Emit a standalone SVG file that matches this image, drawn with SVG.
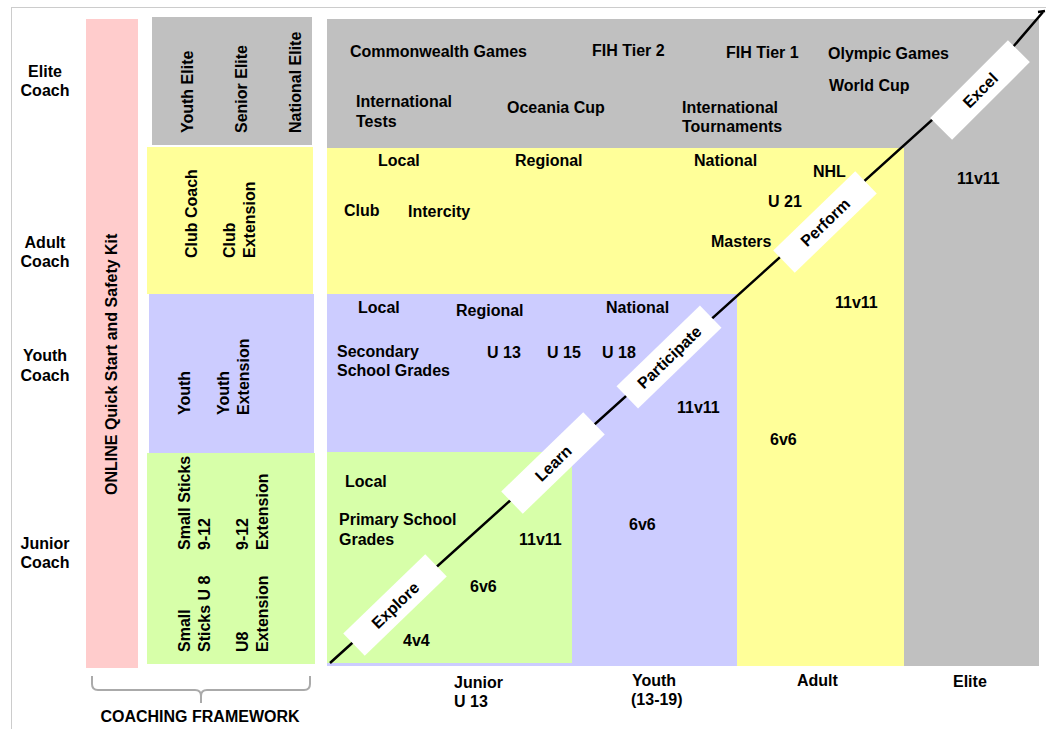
<svg xmlns="http://www.w3.org/2000/svg" width="1046" height="729" viewBox="0 0 1046 729">
<style>
text{font-family:"Liberation Sans",Arial,Helvetica,sans-serif;font-weight:bold;font-size:16px;fill:#000}
.c{text-anchor:middle}
.gray{fill:#c0c0c0}
.yel{fill:#ffff99}
.blue{fill:#ccccff}
.green{fill:#d7ffa9}
.pink{fill:#ffcccc}
.stage{fill:#fff}
.line{stroke:#000;stroke-width:2.5;fill:none}
.brace{stroke:#aaaaaa;stroke-width:2;fill:none}
</style>
<rect x="0" y="0" width="1046" height="729" fill="#fff"/>
<rect x="11.5" y="7.5" width="1060" height="740" fill="none" stroke="#cccccc" stroke-width="1"/>

<g id="level-labels">
<text class="c" x="45" y="77">Elite<tspan x="45" y="96">Coach</tspan></text>
<text class="c" x="45" y="248">Adult<tspan x="45" y="267">Coach</tspan></text>
<text class="c" x="45" y="361">Youth<tspan x="45" y="381">Coach</tspan></text>
<text class="c" x="45" y="549">Junior<tspan x="45" y="568">Coach</tspan></text>
</g>

<g id="online-kit">
<rect class="pink" x="86" y="19" width="52" height="649"/>
<text transform="translate(117,495) rotate(-90)">ONLINE Quick Start and Safety Kit</text>
</g>

<g id="framework-elite">
<rect class="gray" x="152" y="17" width="160" height="128"/>
<text transform="translate(193,133) rotate(-90)">Youth Elite</text>
<text transform="translate(247,133) rotate(-90)">Senior Elite</text>
<text transform="translate(301,133) rotate(-90)">National Elite</text>
</g>
<g id="framework-adult">
<rect class="yel" x="147" y="147" width="166" height="147"/>
<text transform="translate(197,258) rotate(-90)">Club Coach</text>
<text transform="translate(235,258) rotate(-90)"><tspan x="0" y="0">Club</tspan><tspan x="0" y="20">Extension</tspan></text>
</g>
<g id="framework-youth">
<rect class="blue" x="149" y="294" width="165" height="159"/>
<text transform="translate(190,415) rotate(-90)">Youth</text>
<text transform="translate(229,415) rotate(-90)"><tspan x="0" y="0">Youth</tspan><tspan x="0" y="20">Extension</tspan></text>
</g>
<g id="framework-junior">
<rect class="green" x="147" y="453" width="168" height="211"/>
<text transform="translate(190,550) rotate(-90)"><tspan x="0" y="0">Small Sticks</tspan><tspan x="0" y="20">9-12</tspan></text>
<text transform="translate(248,550) rotate(-90)"><tspan x="0" y="0">9-12</tspan><tspan x="0" y="20">Extension</tspan></text>
<text transform="translate(190,652) rotate(-90)"><tspan x="0" y="0">Small</tspan><tspan x="0" y="20">Sticks U 8</tspan></text>
<text transform="translate(248,652) rotate(-90)"><tspan x="0" y="0">U8</tspan><tspan x="0" y="20">Extension</tspan></text>
</g>

<g id="coaching-framework">
<path class="brace" d="M92,676 L92,684 Q92,690 98,690 L195,690 Q201,690 201,696 L201,703 M201,696 Q201,690 207,690 L304,690 Q310,690 310,684 L310,676"/>
<text class="c" x="200" y="722">COACHING FRAMEWORK</text>
</g>

<g id="elite-zone">
<rect class="gray" x="327" y="19" width="712" height="647"/>
<text x="350" y="57">Commonwealth Games</text>
<text x="592" y="56">FIH Tier 2</text>
<text x="726" y="58">FIH Tier 1</text>
<text x="828" y="59">Olympic Games</text>
<text x="829" y="91">World Cup</text>
<text x="356" y="107">International<tspan x="356" y="127">Tests</tspan></text>
<text x="507" y="113">Oceania Cup</text>
<text x="682" y="113">International<tspan x="682" y="132">Tournaments</tspan></text>
<text x="957" y="184">11v11</text>
</g>

<g id="adult-zone">
<rect class="yel" x="327" y="148" width="577" height="518"/>
<text x="378" y="166">Local</text>
<text x="515" y="166">Regional</text>
<text x="694" y="166">National</text>
<text x="813" y="177">NHL</text>
<text x="768" y="207">U 21</text>
<text x="344" y="216">Club</text>
<text x="408" y="217">Intercity</text>
<text x="711" y="247">Masters</text>
<text x="835" y="308">11v11</text>
<text x="770" y="445">6v6</text>
</g>

<g id="youth-zone">
<rect class="blue" x="327" y="294" width="410" height="372"/>
<text x="358" y="313">Local</text>
<text x="456" y="316">Regional</text>
<text x="606" y="313">National</text>
<text x="337" y="357">Secondary<tspan x="337" y="376">School Grades</tspan></text>
<text x="487" y="358">U 13</text>
<text x="547" y="358">U 15</text>
<text x="602" y="358">U 18</text>
<text x="677" y="413">11v11</text>
<text x="629" y="530">6v6</text>
</g>

<g id="junior-zone">
<rect class="green" x="327" y="452" width="245" height="211"/>
<text x="345" y="487">Local</text>
<text x="339" y="525">Primary School<tspan x="339" y="545">Grades</tspan></text>
<text x="519" y="545">11v11</text>
<text x="470" y="592">6v6</text>
<text x="403" y="646">4v4</text>
</g>

<g id="connectors">
<path class="line" d="M330,663 L1013,47 L1043,12"/>
<path class="line" stroke-width="2" d="M1038,12 L1045,11"/>
</g>

<g id="stage-explore" transform="translate(395,605) rotate(-44)">
<rect class="stage" x="-57" y="-15.5" width="114" height="31"/>
<text class="c" x="0" y="6">Explore</text>
</g>
<g id="stage-learn" transform="translate(553,463) rotate(-44)">
<rect class="stage" x="-57" y="-15.5" width="114" height="31"/>
<text class="c" x="0" y="6">Learn</text>
</g>
<g id="stage-participate" transform="translate(669,357) rotate(-44)">
<rect class="stage" x="-58" y="-15.5" width="116" height="31"/>
<text class="c" x="0" y="6">Participate</text>
</g>
<g id="stage-perform" transform="translate(825,222) rotate(-44)">
<rect class="stage" x="-57" y="-15.5" width="114" height="31"/>
<text class="c" x="0" y="6">Perform</text>
</g>
<g id="stage-excel" transform="translate(980,90) rotate(-45)">
<rect class="stage" x="-55" y="-15.5" width="110" height="31"/>
<text class="c" x="0" y="6">Excel</text>
</g>

<g id="age-labels">
<text x="454" y="688">Junior<tspan x="454" y="707">U 13</tspan></text>
<text x="632" y="686">Youth<tspan x="631" y="705">(13-19)</tspan></text>
<text x="797" y="686">Adult</text>
<text x="953" y="687">Elite</text>
</g>
</svg>
